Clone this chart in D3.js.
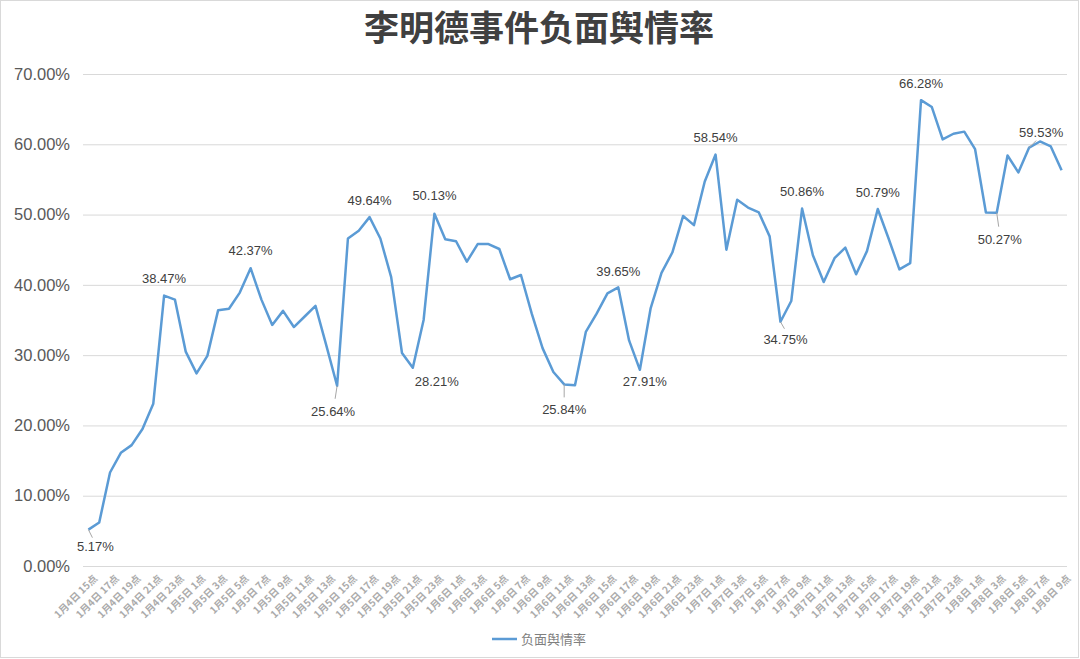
<!DOCTYPE html>
<html>
<head>
<meta charset="utf-8">
<script src="https://cdn.jsdelivr.net/npm/d3@7"></script>
<style>
  body { margin: 0; background: #fff; }
  svg { display: block; }
</style>
</head>
<body>
<div id="graphique"></div>
<script>
// Données : une valeur par heure, du 4 janvier 15h au 8 janvier 9h (91 points)
const valeurs = [
  5.17, 6.2, 13.3, 16.1, 17.2, 19.5, 23.1, 38.47, 37.9, 30.5,
  27.4, 29.9, 36.4, 36.6, 38.9, 42.37, 37.9, 34.3, 36.3, 34.0,
  35.5, 37.0, 31.4, 25.64, 46.6, 47.7, 49.64, 46.6, 41.1, 30.3,
  28.21, 35.0, 50.13, 46.5, 46.2, 43.3, 45.8, 45.8, 45.1, 40.8,
  41.4, 35.9, 31.0, 27.6, 25.84, 25.7, 33.3, 35.9, 38.8, 39.65,
  32.1, 27.91, 36.7, 41.7, 44.6, 49.8, 48.5, 54.7, 58.54, 45.0,
  52.1, 51.0, 50.3, 46.9, 34.75, 37.7, 50.86, 44.2, 40.4, 43.8,
  45.3, 41.5, 44.8, 50.79, 46.6, 42.2, 43.1, 66.28, 65.3, 60.7,
  61.5, 61.8, 59.3, 50.3, 50.27, 58.4, 56.0, 59.53, 60.4, 59.7,
  56.3
];

// Étiquettes de l'axe X (une heure sur deux)
const etiquettesX = [
  "1月4日 15点", "1月4日 17点", "1月4日 19点", "1月4日 21点", "1月4日 23点",
  "1月5日 1点", "1月5日 3点", "1月5日 5点", "1月5日 7点", "1月5日 9点",
  "1月5日 11点", "1月5日 13点", "1月5日 15点", "1月5日 17点", "1月5日 19点",
  "1月5日 21点", "1月5日 23点", "1月6日 1点", "1月6日 3点", "1月6日 5点",
  "1月6日 7点", "1月6日 9点", "1月6日 11点", "1月6日 13点", "1月6日 15点",
  "1月6日 17点", "1月6日 19点", "1月6日 21点", "1月6日 23点", "1月7日 1点",
  "1月7日 3点", "1月7日 5点", "1月7日 7点", "1月7日 9点", "1月7日 11点",
  "1月7日 13点", "1月7日 15点", "1月7日 17点", "1月7日 19点", "1月7日 21点",
  "1月7日 23点", "1月8日 1点", "1月8日 3点", "1月8日 5点", "1月8日 7点",
  "1月8日 9点"
];

const ticksY = [0, 10, 20, 30, 40, 50, 60, 70];

// Points qui portent une étiquette de valeur
const pointsEtiquetes = [0, 7, 15, 23, 26, 30, 32, 44, 49, 51, 58, 64, 66, 73, 77, 84, 87];

const titre = "李明德事件负面舆情率";
const nomSerie = "负面舆情率";

const largeur = 1080, hauteur = 659;
const couleurLigne = "#5b9bd5";
const policeLatine = "'Liberation Sans', Arial, sans-serif";
const policeCJK = "'Noto Sans CJK SC', 'Noto Sans', sans-serif";

const svg = d3.select("#graphique").append("svg")
  .attr("width", largeur)
  .attr("height", hauteur);

// Cadre du graphique
svg.append("rect")
  .attr("x", 0.5).attr("y", 0.5)
  .attr("width", largeur - 2).attr("height", hauteur - 2)
  .attr("fill", "#fff")
  .attr("stroke", "#d9d9d9");

// Échelles
const x = d3.scalePoint()
  .domain(d3.range(valeurs.length))
  .range([83, 1067])
  .padding(0.5);

const y = d3.scaleLinear()
  .domain([0, 70])
  .range([566, 74]);

// Titre
svg.append("text")
  .attr("x", 539).attr("y", 41)
  .attr("text-anchor", "middle")
  .attr("font-family", policeCJK)
  .attr("font-weight", "bold")
  .attr("font-size", 35)
  .attr("fill", "#404040")
  .text(titre);

// Axe Y : grille + étiquettes
const axeY = d3.axisLeft(y)
  .tickValues(ticksY)
  .tickSize(-(1067 - 83))
  .tickPadding(13)
  .tickFormat(d => d.toFixed(2) + "%");

const gY = svg.append("g")
  .attr("transform", "translate(83,0)")
  .call(axeY);
gY.select(".domain").remove();
gY.selectAll(".tick line").attr("stroke", "#d9d9d9").attr("stroke-width", 1);
gY.selectAll(".tick text")
  .attr("font-family", policeLatine)
  .attr("font-size", 16.5)
  .attr("fill", "#595959");

// Axe X : étiquettes inclinées, une heure sur deux
const axeX = d3.axisBottom(x)
  .tickValues(d3.range(0, valeurs.length, 2))
  .tickSize(0)
  .tickFormat(i => etiquettesX[i / 2]);

const gX = svg.append("g")
  .attr("transform", "translate(0,566)")
  .call(axeX);
gX.select(".domain").remove();
gX.selectAll(".tick text")
  .attr("font-family", policeCJK)
  .attr("font-size", 10)
  .attr("font-weight", "bold")
  .attr("fill", "#ababab")
  .attr("text-anchor", "end")
  .attr("dy", 0)
  .attr("transform", "translate(7,11) rotate(-45)");

// Courbe
const ligne = d3.line()
  .x((d, i) => x(i))
  .y(d => y(d));

svg.append("path")
  .datum(valeurs)
  .attr("d", ligne)
  .attr("fill", "none")
  .attr("stroke", couleurLigne)
  .attr("stroke-width", 2.5)
  .attr("stroke-linejoin", "round");

// Placement des étiquettes (décalage du centre par rapport au point) et traits de rappel
const placement = {
  0:  { dx: 7,  dy: 17, rappel: [4, 8] },
  7:  { dx: 0,  dy: -17 },
  15: { dx: 0,  dy: -18 },
  23: { dx: -4, dy: 26, rappel: [-2, 13] },
  26: { dx: 0,  dy: -17 },
  30: { dx: 24, dy: 14 },
  32: { dx: 0,  dy: -18 },
  44: { dx: 0,  dy: 25, rappel: [0, 13] },
  49: { dx: 0,  dy: -16 },
  51: { dx: 5,  dy: 12 },
  58: { dx: 0,  dy: -17 },
  64: { dx: 5,  dy: 18, rappel: [4, 7] },
  66: { dx: 0,  dy: -17 },
  73: { dx: 0,  dy: -17 },
  77: { dx: 0,  dy: -17 },
  84: { dx: 3,  dy: 27, rappel: [2, 14] },
  87: { dx: 12, dy: -15, rappel: [7, -7] }
};

pointsEtiquetes.forEach(i => {
  let p = placement[i];
  let px = x(i), py = y(valeurs[i]);
  if (p.rappel) {
    svg.append("line")
      .attr("x1", px).attr("y1", py)
      .attr("x2", px + p.rappel[0]).attr("y2", py + p.rappel[1])
      .attr("stroke", "#a6a6a6")
      .attr("stroke-width", 1);
  }
  svg.append("text")
    .attr("x", px + p.dx)
    .attr("y", py + p.dy)
    .attr("dy", "0.35em")
    .attr("text-anchor", "middle")
    .attr("font-family", policeLatine)
    .attr("font-size", 13)
    .attr("fill", "#404040")
    .text(valeurs[i].toFixed(2) + "%");
});

// Légende
const legende = svg.append("g").attr("transform", "translate(492,639)");
legende.append("line")
  .attr("x1", 0).attr("x2", 25)
  .attr("stroke", couleurLigne)
  .attr("stroke-width", 2.5);
legende.append("text")
  .attr("x", 29).attr("dy", "0.35em")
  .attr("font-family", policeCJK)
  .attr("font-size", 13)
  .attr("fill", "#7f7f7f")
  .text(nomSerie);
</script>
</body>
</html>
